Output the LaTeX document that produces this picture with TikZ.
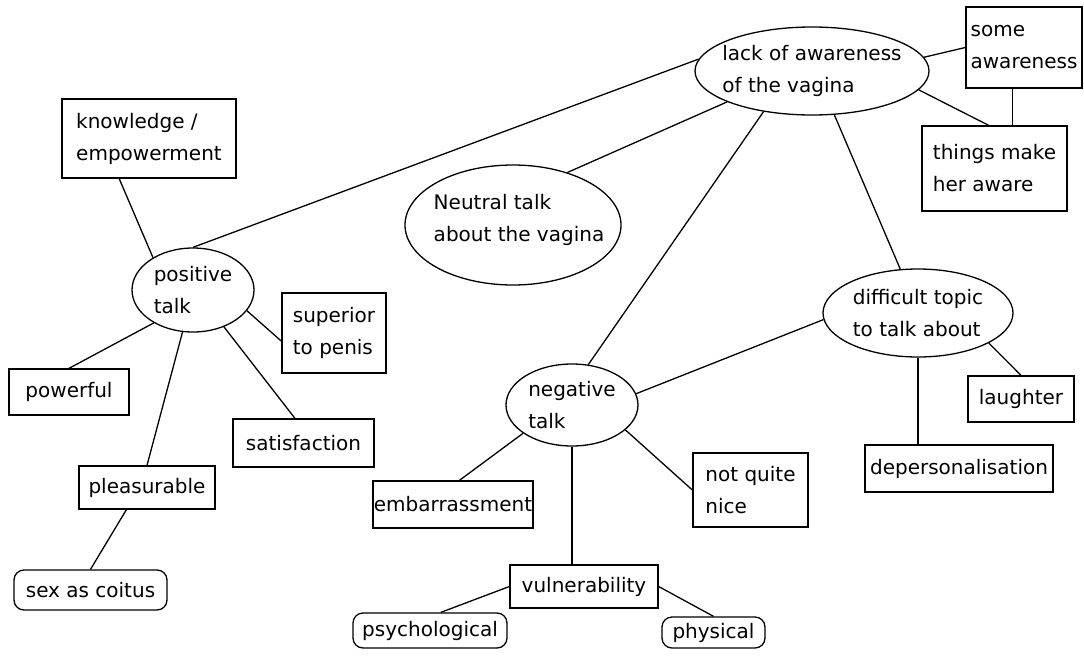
\documentclass[tikz,border=0pt]{standalone}
\usepackage{fontspec}
\setmainfont{DejaVu Sans}
\usetikzlibrary{shapes.geometric,calc}
\tikzset{
  lbl/.style={font=\fontsize{20}{32}\selectfont, align=left, inner sep=0pt},
  boxn/.style={draw, line width=1.3pt, rectangle, inner xsep=1pt, inner ysep=2pt, font=\fontsize{20}{32}\selectfont, align=left},
  rbox/.style={boxn, rounded corners=10pt},
  oval/.style={draw, line width=1.3pt, ellipse, inner sep=0pt},
  conn/.style={line width=1.3pt}
}
\begin{document}
\begin{tikzpicture}[x=1pt,y=-1pt]
\useasboundingbox[fill=white] (0,0) rectangle (1084,656);
% ellipses
\node[oval, minimum width=234pt, minimum height=88pt] (lack) at (812,71) {};
\node[lbl] at (lack) {lack of awareness\\of the vagina};
\node[oval, minimum width=122pt, minimum height=84pt] (pos) at (193,290) {};
\node[lbl] at (pos) {positive\\talk};
\node[oval, minimum width=216pt, minimum height=120pt] (neu) at (513,225) {};
\node[lbl] at ($(neu)+(6,-5)$) {Neutral talk\\about the vagina};
\node[oval, minimum width=132pt, minimum height=82pt] (neg) at (572,405) {};
\node[lbl] at (neg) {negative\\talk};
\node[oval, minimum width=190pt, minimum height=88pt] (diff) at (918,313) {};
\node[lbl] at (diff) {difficult topic\\to talk about};
% boxes
\node[boxn, minimum width=116pt, minimum height=81pt] (some) at (1024,47.5) {some\\awareness};
\node[boxn, minimum width=145pt, minimum height=85pt] (things) at (994.5,168.5) {things make\\her aware};
\node[boxn, minimum width=174pt, minimum height=79pt] (know) at (149,138.5) {knowledge /\\empowerment};
\node[boxn, minimum width=104pt, minimum height=80pt] (sup) at (334,333) {superior\\to penis};
\node[boxn, minimum width=120pt, minimum height=46pt] (powf) at (69,392) {powerful};
\node[boxn, minimum width=136pt, minimum height=43pt] (plea) at (147,487.5) {pleasurable};
\node[boxn, minimum width=141pt, minimum height=48pt] (sat) at (303.5,443) {satisfaction};
\node[rbox, minimum width=153pt, minimum height=40pt] (sex) at (90.5,590) {sex as coitus};
\node[boxn, minimum width=160pt, minimum height=47pt] (emb) at (453,504.5) {embarrassment};
\node[boxn, minimum width=115pt, minimum height=74pt] (nice) at (750.5,490) {not quite\\nice};
\node[boxn, minimum width=148pt, minimum height=43pt] (vul) at (584,586.5) {vulnerability};
\node[rbox, minimum width=154pt, minimum height=35pt] (psy) at (430,630.5) {psychological};
\node[rbox, minimum width=103pt, minimum height=31pt] (phy) at (713.5,632.5) {physical};
\node[boxn, minimum width=106pt, minimum height=46pt] (laugh) at (1021,399) {laughter};
\node[boxn, minimum width=188pt, minimum height=47pt] (dep) at (959,468.5) {depersonalisation};
% connectors
\draw[conn] (lack.7) -- (some.west);
\draw[conn] (lack.350) -- ($(things.north west)!0.46!(things.north east)$);
\coordinate (st) at ($(some.south west)!0.4!(some.south east)$);
\draw[conn] (st) -- (st |- things.north);
\draw[conn] (lack.174.5) -- (pos.north);
\draw[conn] (lack.200.8) -- (neu.44);
\draw[conn] (lack.220) -- (neg.68);
\draw[conn] (lack.297.6) -- (diff.112.7);
\coordinate (kb) at ($(know.south west)!0.33!(know.south east)$);
\draw[conn] (kb) -- (pos.141);
\draw[conn] (pos.339) -- ($(sup.north west)!0.6!(sup.south west)$);
\draw[conn] (pos.220) -- (powf.north);
\draw[conn] (pos.256) -- (plea.north);
\draw[conn] (pos.310) -- ($(sat.north west)!0.44!(sat.north east)$);
\draw[conn] ($(plea.south west)!0.35!(plea.south east)$) -- (sex.north);
\draw[conn] (neg.10) -- (diff.184);
\draw[conn] (neg.210.6) -- ($(emb.north west)!0.54!(emb.north east)$);
\draw[conn] (neg.335) -- (nice.west);
\draw[conn] (neg.south) -- (neg.south |- vul.north);
\draw[conn] (vul.west) -- ($(psy.north west)!0.57!(psy.north east)$);
\draw[conn] (vul.east) -- (phy.north);
\draw[conn] (diff.337) -- (laugh.north);
\draw[conn] (diff.south) -- (diff.south |- dep.north);
\end{tikzpicture}
\end{document}
